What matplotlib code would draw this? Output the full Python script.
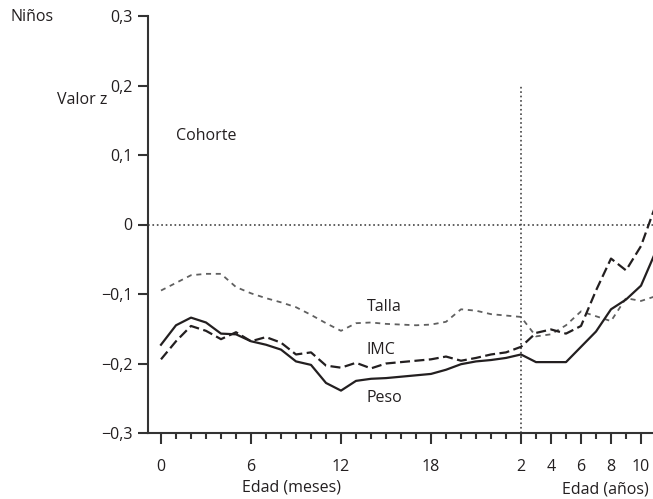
import numpy as np
import matplotlib
matplotlib.use("Agg")
import matplotlib.pyplot as plt
from matplotlib.ticker import FixedLocator, FixedFormatter

plt.rcParams['font.family'] = ['Open Sans', 'DejaVu Sans']

# Edad en meses: mensual hasta 24 meses, luego anual
edad_meses = list(range(0, 25)) + [36, 48, 60, 72, 84, 96, 108, 120, 132]

peso = [-0.173, -0.145, -0.134, -0.141, -0.157, -0.158, -0.168, -0.173, -0.180,
        -0.197, -0.202, -0.228, -0.239, -0.225, -0.222, -0.221, -0.219, -0.217,
        -0.215, -0.209, -0.201, -0.197, -0.195, -0.192, -0.187,
        -0.198, -0.198, -0.198, -0.176, -0.154, -0.122, -0.108, -0.088, -0.038]

imc = [-0.194, -0.168, -0.146, -0.153, -0.165, -0.155, -0.168, -0.162, -0.170,
       -0.187, -0.184, -0.203, -0.206, -0.199, -0.207, -0.200, -0.198, -0.196,
       -0.194, -0.190, -0.196, -0.192, -0.187, -0.184, -0.176,
       -0.156, -0.151, -0.157, -0.146, -0.095, -0.049, -0.066, -0.031, 0.029]

talla = [-0.095, -0.084, -0.073, -0.071, -0.071, -0.090, -0.099, -0.106, -0.112,
         -0.119, -0.130, -0.142, -0.153, -0.142, -0.141, -0.143, -0.144, -0.145,
         -0.144, -0.140, -0.122, -0.124, -0.129, -0.131, -0.133,
         -0.161, -0.158, -0.145, -0.125, -0.132, -0.139, -0.106, -0.110, -0.103]

ticks_meses = [0, 6, 12, 18]
ticks_anos = [2, 4, 6, 8, 10]
yticks = [-0.3, -0.2, -0.1, 0, 0.1, 0.2, 0.3]
ytick_labels = ["\u22120,3", "\u22120,2", "\u22120,1", "0", "0,1", "0,2", "0,3"]

INK = "#231f20"


def posicion(meses):
    # los meses ocupan una unidad cada uno; después de 24 meses, un año por unidad
    m = np.asarray(meses, dtype=float)
    return np.where(m <= 24, m, 24 + (m - 24) / 12.0)


W, H = 653, 499
fig = plt.figure(figsize=(W / 100, H / 100), dpi=100)
ax = fig.add_axes([148 / W, (H - 433) / H, (653 - 148) / W, (433 - 16) / H])

x = posicion(edad_meses)
ax.plot(x, talla, color="#606060", lw=1.3, linestyle=(0, (2.8, 2.6)), zorder=3)
ax.plot(x, imc, color=INK, lw=1.6, linestyle=(0, (4.5, 2.0)), zorder=4)
ax.plot(x, peso, color=INK, lw=1.6, linestyle="-", zorder=5)

# referencias punteadas: z = 0 y el cambio de escala a los 2 años
ax.axhline(0, color="#444444", lw=1.2, linestyle=":", zorder=2)
ax.plot([24, 24], [-0.3, 0.2], color="#444444", lw=1.2, linestyle=":", zorder=2)

ax.set_xlim((148 - 161) / 15.0, (653 - 161) / 15.0)
ax.set_ylim(-0.3, 0.3)

for s in ["top", "right"]:
    ax.spines[s].set_visible(False)
for s in ["left", "bottom"]:
    ax.spines[s].set_color("#333333")
    ax.spines[s].set_linewidth(1.5)

major_x = ticks_meses + [24 + (a - 2) for a in ticks_anos]
major_lbl = [str(m) for m in ticks_meses] + [str(a) for a in ticks_anos]
minor_x = [v for v in range(0, 33) if v not in major_x]
ax.xaxis.set_major_locator(FixedLocator(major_x))
ax.xaxis.set_major_formatter(FixedFormatter(major_lbl))
ax.xaxis.set_minor_locator(FixedLocator(minor_x))
ax.set_yticks(yticks)
ax.set_yticklabels(ytick_labels)

ax.tick_params(axis="x", which="major", direction="out", length=8, width=1.5,
               color="#333333", pad=10.5, labelsize=11.5, labelcolor=INK)
ax.tick_params(axis="x", which="minor", direction="out", length=4.5, width=1.5,
               color="#333333")
ax.tick_params(axis="y", direction="out", length=7.5, width=1.5,
               color="#333333", pad=3.5, labelsize=11.5, labelcolor=INK)

# rótulos de las curvas
ax.text(1.0, 0.127, "Cohorte", fontsize=11.5, color=INK, va="center", ha="left")
ax.text(13.7, -0.118, "Talla", fontsize=11.5, color=INK, va="center", ha="left")
ax.text(13.7, -0.181, "IMC", fontsize=11.5, color=INK, va="center", ha="left")
ax.text(13.7, -0.249, "Peso", fontsize=11.5, color=INK, va="center", ha="left")

fig.text(11 / W, 1 - 17 / H, "Niños", fontsize=11.5, color=INK, va="center", ha="left")
fig.text(107 / W, 1 - 100 / H, "Valor z", fontsize=11.5, color=INK, va="center", ha="right")
fig.text(291 / W, 1 - 488 / H, "Edad (meses)", fontsize=11.5, color=INK, va="center", ha="center")
fig.text(605 / W, 1 - 490 / H, "Edad (años)", fontsize=11.5, color=INK, va="center", ha="center")

fig.savefig("out.png", dpi=100)
